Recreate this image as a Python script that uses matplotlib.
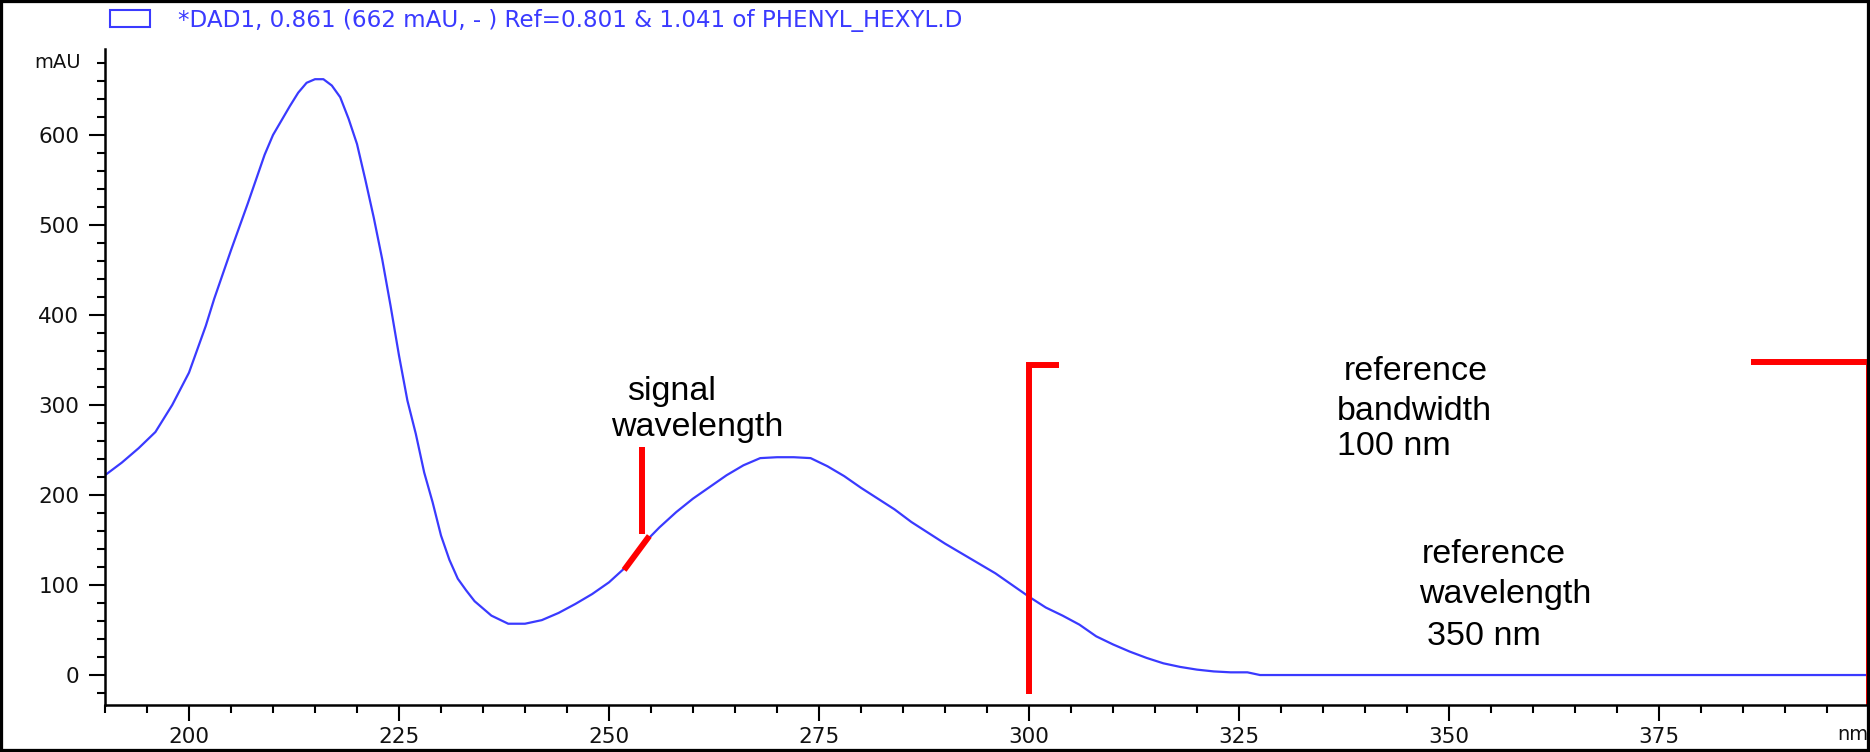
import matplotlib
matplotlib.use("Agg")
import matplotlib.pyplot as plt
from matplotlib.patches import Rectangle
from matplotlib.ticker import MultipleLocator, FixedLocator

# UV spectrum of the DAD1 peak (wavelength in nm, absorbance in mAU)
wavelength_nm = [190, 192, 194, 196, 198, 200, 201, 202, 203, 205, 207, 209, 210,
                 211, 212, 213, 214, 215, 216, 217, 218, 219, 220, 221, 222, 223,
                 224, 225, 226, 227, 228, 229, 230, 231, 232, 233, 234, 236, 238,
                 240, 242, 244, 246, 248, 250, 252, 254, 256, 258, 260, 262, 264,
                 266, 268, 270, 272, 274, 276, 278, 280, 282, 284, 286, 288, 290,
                 292, 294, 296, 298, 300, 302, 304, 306, 308, 310, 312, 314, 316,
                 318, 320, 322, 324, 326, 327.5, 350, 375, 400]
absorbance_mau = [222, 236, 252, 270, 300, 336, 362, 388, 418, 472, 524, 578, 600,
                  616, 632, 647, 658, 662, 662, 655, 642, 618, 590, 550, 508, 462,
                  410, 355, 305, 268, 225, 192, 155, 128, 107, 94, 82, 66, 57,
                  57, 61, 69, 79, 90, 103, 120, 145, 164, 181, 196, 209, 222,
                  233, 241, 242, 242, 241, 232, 221, 208, 196, 184, 170, 158, 146,
                  135, 124, 113, 100, 87, 75, 66, 56, 43, 34, 26, 19, 13,
                  9, 6, 4, 3, 3, 0, 0, 0, 0]

x_major_ticks = [200, 225, 250, 275, 300, 325, 350, 375]
y_major_ticks = [0, 100, 200, 300, 400, 500, 600]

legend_label = "*DAD1, 0.861 (662 mAU, - ) Ref=0.801 & 1.041 of PHENYL_HEXYL.D"

# Wavelength settings drawn as red markers
signal_wl = 253.9
reference_wl = 300.0
reference_end = 400.0

W, H = 1870, 752
fig = plt.figure(figsize=(W / 100, H / 100), dpi=100)
fig.patch.set_facecolor("white")


def fx(px):
    return px / W


def fy(py):
    return 1 - py / H


ax_left, ax_right, ax_top, ax_bottom = 105, 1869, 49.5, 705
ax = fig.add_axes([fx(ax_left), fy(ax_bottom), fx(ax_right - ax_left),
                   (ax_bottom - ax_top) / H])
ax.set_xlim(190, 400)
ax.set_ylim(-33.3, 695)

blue = "#3a3aff"
ax.plot(wavelength_nm, absorbance_mau, color=blue, lw=1.6, solid_joinstyle="round")

for side in ("top", "right"):
    ax.spines[side].set_visible(False)
for side in ("left", "bottom"):
    ax.spines[side].set_linewidth(1.8)

ax.xaxis.set_major_locator(FixedLocator(x_major_ticks))
ax.xaxis.set_minor_locator(MultipleLocator(5))
ax.yaxis.set_major_locator(FixedLocator(y_major_ticks))
ax.yaxis.set_minor_locator(MultipleLocator(20))
ax.tick_params(which="major", length=11.5, width=1.5, labelsize=15.5,
               labelcolor="#111111", direction="out")
ax.tick_params(which="minor", length=6, width=1.5, direction="out")
ax.tick_params(axis="y", which="major", pad=7)
ax.tick_params(axis="x", which="major", pad=4)
for lab in ax.get_xticklabels() + ax.get_yticklabels():
    lab.set_family("DejaVu Sans")

# unit labels
fig.text(fx(81), fy(63), "mAU", ha="right", va="center", fontsize=14,
         family="DejaVu Sans", color="#111111")
fig.text(fx(1868), fy(735), "nm", ha="right", va="center", fontsize=14,
         family="DejaVu Sans", color="#111111")

# legend entry
fig.patches.append(Rectangle((fx(110), fy(26.7)), fx(40), 16.7 / H,
                             transform=fig.transFigure, fill=False,
                             edgecolor=blue, lw=1.5))
fig.text(fx(178), fy(26.7), legend_label, ha="left", va="baseline",
         fontsize=16.6, family="DejaVu Sans", color=blue)

# red markers
red = "#ff0000"
red_lw = 4.3
ax.plot([signal_wl, signal_wl], [253, 157], color=red, lw=red_lw,
        solid_capstyle="butt", clip_on=False)
ax.plot([254.8, 251.8], [154.5, 116.7], color=red, lw=red_lw,
        solid_capstyle="butt", clip_on=False)
ax.plot([reference_wl + 3.6, reference_wl, reference_wl], [344, 344, -21.5],
        color=red, lw=red_lw, solid_capstyle="butt", solid_joinstyle="miter",
        clip_on=False)
ax.plot([386.0, reference_end, reference_end], [348, 348, -34], color=red,
        lw=red_lw, solid_capstyle="butt", solid_joinstyle="miter", clip_on=False)

# annotation texts
ann = dict(ha="left", va="baseline", fontsize=24.5, family="Liberation Sans",
           color="black")
fig.text(fx(627), fy(400), "signal", **ann)
fig.text(fx(611), fy(436), "wavelength", **ann)
fig.text(fx(1344), fy(379.5), "reference", **ann)
fig.text(fx(1337), fy(420), "bandwidth", **ann)
fig.text(fx(1337), fy(455), "100 nm", **ann)
fig.text(fx(1422), fy(563), "reference", **ann)
fig.text(fx(1419), fy(603.5), "wavelength", **ann)
fig.text(fx(1427), fy(645), "350 nm", **ann)

# outer frame
fig.patches.append(Rectangle((0, 0), 1, 1, transform=fig.transFigure,
                             fill=False, edgecolor="black", lw=4.5))

fig.savefig("out.png", dpi=100)
